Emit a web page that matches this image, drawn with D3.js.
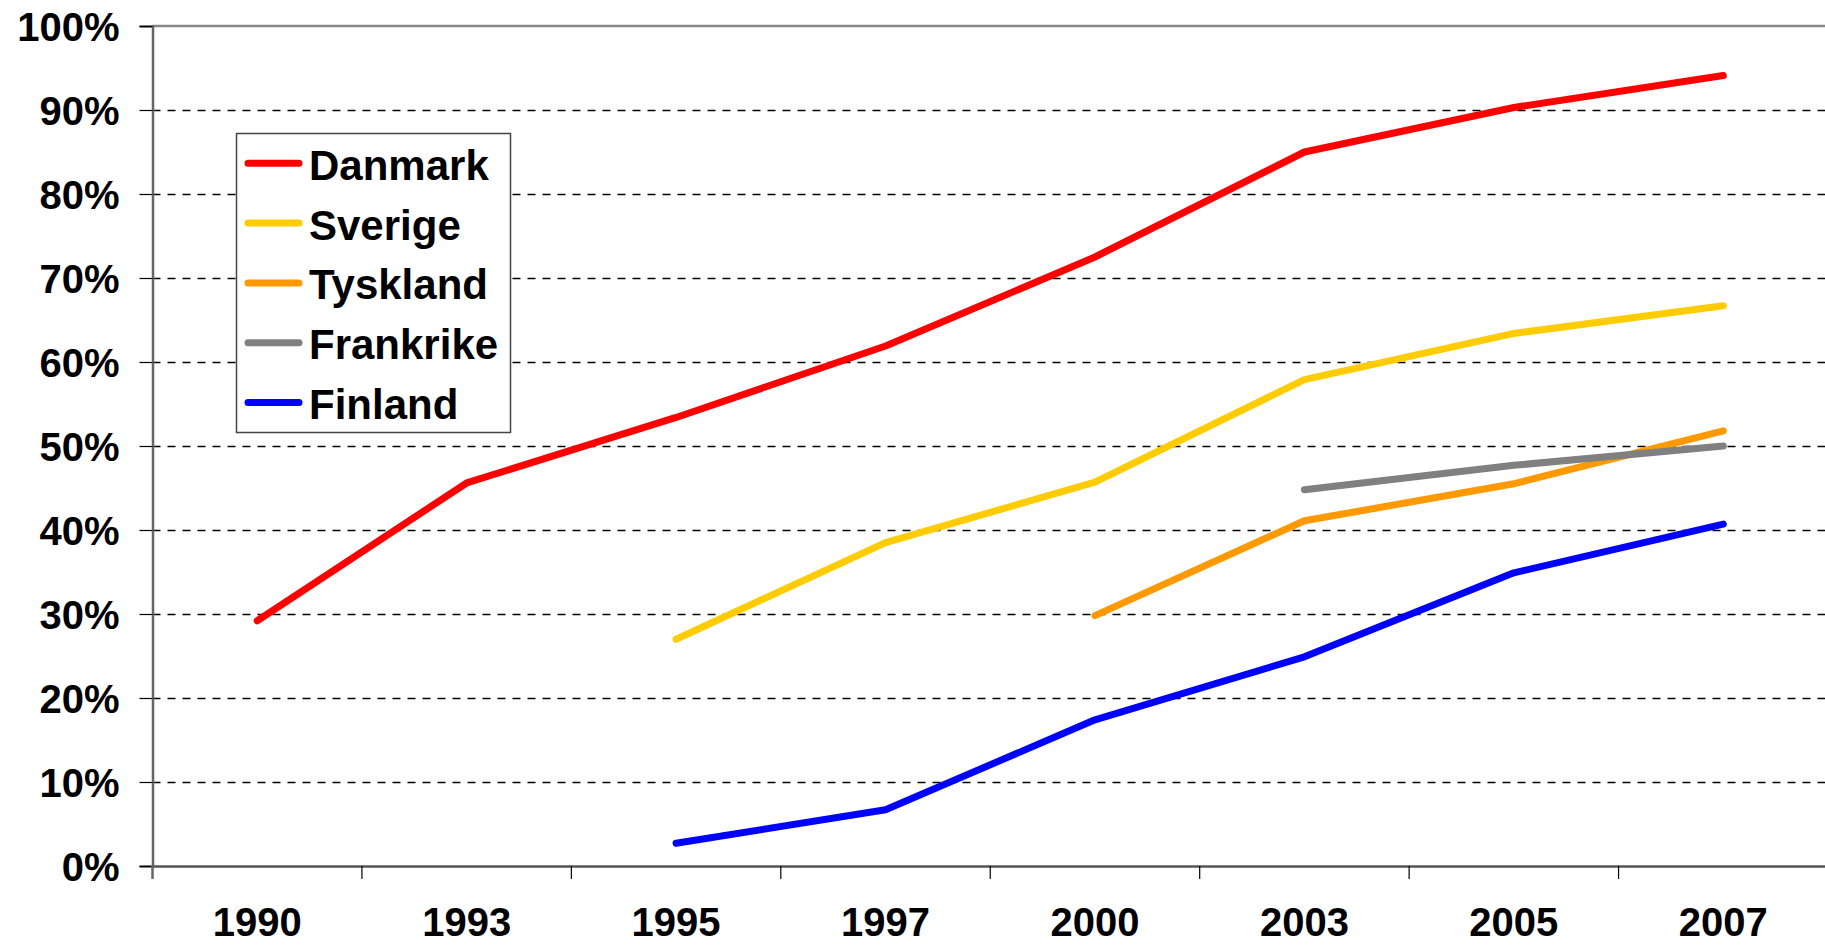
<!DOCTYPE html>
<html>
<head>
<meta charset="utf-8">
<script src="https://cdn.jsdelivr.net/npm/d3@7"></script>
<style>
  html, body { margin: 0; padding: 0; background: #fff; overflow: hidden; }
  svg { display: block; }
  text { font-family: "Liberation Sans", Arial, sans-serif; font-weight: bold; fill: #000; }
</style>
</head>
<body>
<svg id="chart" width="1825" height="946"></svg>
<script>
const years = ["1990", "1993", "1995", "1997", "2000", "2003", "2005", "2007"];
const yTicks = [0, 10, 20, 30, 40, 50, 60, 70, 80, 90, 100];
const seriesNames = ["Danmark", "Sverige", "Tyskland", "Frankrike", "Finland"];
const seriesColors = ["#FF0000", "#FFCC00", "#FF9900", "#808080", "#0000FF"];
const danmark   = [29.2, 45.6, 53.4, 61.9, 72.5, 85.0, 90.3, 94.1];
const sverige   = [null, null, 27.0, 38.5, 45.7, 57.9, 63.4, 66.7];
const tyskland  = [null, null, null, null, 29.8, 41.1, 45.5, 51.8];
const frankrike = [null, null, null, null, null, 44.8, 47.7, 50.0];
const finland   = [null, null, 2.7, 6.7, 17.4, 24.9, 34.9, 40.7];
const seriesValues = [danmark, sverige, tyskland, frankrike, finland];

const svg = d3.select("#chart");
const mLeft = 152.5, mRight = 1828, mTop = 26, mBottom = 866;

const x = d3.scaleBand().domain(years).range([mLeft, mRight]);
const y = d3.scaleLinear().domain([0, 100]).range([mBottom, mTop]);

// gridlines
svg.append("g").selectAll("line").data(yTicks.filter(d => d > 0 && d < 100)).join("line")
  .attr("x1", mLeft).attr("x2", mRight)
  .attr("y1", d => y(d) + 0.5).attr("y2", d => y(d) + 0.5)
  .attr("stroke", "#000").attr("stroke-width", 1.3)
  .attr("stroke-dasharray", "8,7");

// top border
svg.append("line").attr("x1", mLeft).attr("x2", mRight).attr("y1", y(100)).attr("y2", y(100))
  .attr("stroke", "#888").attr("stroke-width", 2.5);

// y axis
const yAxis = svg.append("g").attr("transform", `translate(${mLeft},0)`)
  .call(d3.axisLeft(y).tickValues(yTicks).tickSize(13).tickPadding(20).tickFormat(d => d + "%"));
yAxis.select(".domain").attr("stroke", "#666").attr("stroke-width", 2.5);
yAxis.selectAll(".tick line").attr("stroke", "#000").attr("stroke-width", 1.2);
yAxis.selectAll(".tick text").attr("font-size", 40).attr("font-family", "Liberation Sans, Arial, sans-serif")
  .attr("font-weight", "bold").attr("dy", "0.36em").attr("fill", "#000");

// x axis
const xAxis = svg.append("g").attr("transform", `translate(0,${mBottom})`)
  .call(d3.axisBottom(x).tickSize(0).tickPadding(42));
xAxis.select(".domain").attr("stroke", "#555").attr("stroke-width", 2.5);
xAxis.selectAll(".tick text").attr("font-size", 40).attr("font-family", "Liberation Sans, Arial, sans-serif")
  .attr("font-weight", "bold").attr("fill", "#000").attr("dy", "0.71em");
// category boundary ticks
const bounds = years.map(d => x(d)).concat([x(years[years.length - 1]) + x.bandwidth()]);
svg.append("g").selectAll("line").data(bounds).join("line")
  .attr("x1", d => d).attr("x2", d => d)
  .attr("y1", mBottom).attr("y2", mBottom + 13)
  .attr("stroke", (d, i) => i === 0 ? "#666" : "#000")
  .attr("stroke-width", (d, i) => i === 0 ? 2.5 : 1.2);

// lines
const line = d3.line()
  .defined(d => d.v !== null)
  .x(d => x(d.year) + x.bandwidth() / 2)
  .y(d => y(d.v));

seriesNames.forEach((name, i) => {
  const data = years.map((yr, j) => ({ year: yr, v: seriesValues[i][j] }));
  svg.append("path").datum(data)
    .attr("d", line)
    .attr("fill", "none")
    .attr("stroke", seriesColors[i])
    .attr("stroke-width", 7)
    .attr("stroke-linecap", "round")
    .attr("stroke-linejoin", "round");
});

// legend
const lg = svg.append("g");
lg.append("rect").attr("x", 236.5).attr("y", 133.5).attr("width", 274).attr("height", 299)
  .attr("fill", "#fff").attr("stroke", "#444").attr("stroke-width", 1.5);
seriesNames.forEach((name, i) => {
  const ly = 163.3 + i * 59.8;
  lg.append("line").attr("x1", 248).attr("x2", 299).attr("y1", ly).attr("y2", ly)
    .attr("stroke", seriesColors[i]).attr("stroke-width", 7).attr("stroke-linecap", "round");
  lg.append("text").attr("x", 309).attr("y", ly + 16.5).attr("font-size", 42).text(name);
});
</script>
</body>
</html>
